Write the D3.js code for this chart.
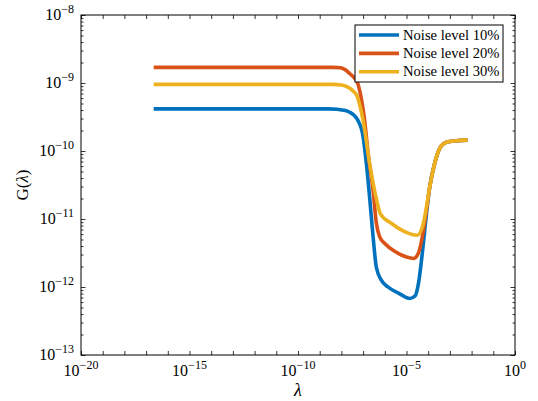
<!DOCTYPE html>
<html>
<head>
<meta charset="utf-8">
<script src="https://cdn.jsdelivr.net/npm/d3@7"></script>
<style>
body { margin: 0; background: #fff; }
text { font-family: "Liberation Serif", "DejaVu Serif", serif; fill: #000; }
</style>
</head>
<body>
<div id="chart-area"></div>
<script>
// log10 of lambda and log10 of G
var seriesNames = ["Noise level 10%", "Noise level 20%", "Noise level 30%"];
var colors = ["#0072BD", "#D95319", "#EDB120"];

var blueLogLam = [-16.65, -8.6, -8.2, -7.9, -7.62, -7.4, -7.24, -7.0, -6.85, -6.70, -6.54, -6.39, -6.16, -5.85, -5.31, -4.85, -4.6, -4.45, -4.24, -4.08, -3.93, -3.70, -3.47, -3.16, -2.70, -2.19];
var blueLogG   = [-9.38, -9.38, -9.385, -9.40, -9.43, -9.48, -9.55, -9.79, -10.18, -10.68, -11.26, -11.71, -11.90, -12.0, -12.10, -12.17, -12.13, -11.95, -11.41, -10.92, -10.53, -10.18, -9.96, -9.87, -9.85, -9.84];

var redLogLam = [-16.65, -8.4, -8.05, -7.85, -7.62, -7.39, -7.24, -7.16, -6.93, -6.77, -6.54, -6.39, -6.24, -6.0, -5.47, -5.0, -4.67, -4.45, -4.24, -4.08, -3.93, -3.70, -3.47, -3.16, -2.70, -2.19];
var redLogG   = [-8.77, -8.77, -8.775, -8.80, -8.86, -8.93, -9.01, -9.11, -9.55, -10.03, -10.58, -11.06, -11.26, -11.36, -11.49, -11.56, -11.58, -11.50, -11.21, -10.87, -10.53, -10.18, -9.96, -9.87, -9.85, -9.84];

var yellowLogLam = [-16.65, -8.4, -8.0, -7.7, -7.45, -7.28, -7.0, -6.70, -6.37, -6.21, -5.67, -5.06, -4.51, -4.25, -4.08, -3.93, -3.70, -3.47, -3.16, -2.70, -2.19];
var yellowLogG   = [-9.02, -9.02, -9.03, -9.06, -9.12, -9.19, -9.55, -10.18, -10.73, -10.92, -11.07, -11.19, -11.24, -11.10, -10.82, -10.53, -10.18, -9.96, -9.87, -9.85, -9.84];

var xTickExp = [-20, -15, -10, -5, 0];
var yTickExp = [-13, -12, -11, -10, -9, -8];

var margin = {top: 15, right: 23, bottom: 46, left: 81};
var width = 538;
var height = 401;
var w = width - margin.left - margin.right;
var h = height - margin.top - margin.bottom;

var svg = d3.select("#chart-area").append("svg")
	.attr("width", width)
	.attr("height", height);

var group = svg.append("g")
	.attr("transform", "translate(" + margin.left + "," + margin.top + ")");

var x = d3.scaleLog().domain([1e-20, 1]).range([0, w]);
var y = d3.scaleLog().domain([1e-13, 1e-8]).range([h, 0]);

var xDecades = d3.range(-20, 1).map((e) => Math.pow(10, e));
var yMinor = [];
for (var e = -13; e < -8; e++) {
	for (var m = 2; m <= 9; m++) yMinor.push(m * Math.pow(10, e));
}
var yMajor = yTickExp.map((e) => Math.pow(10, e));

function tickAxis(axis, vals, size) {
	return axis.tickValues(vals).tickSizeInner(-size).tickSizeOuter(0).tickFormat("");
}

group.append("g").attr("transform", "translate(0," + h + ")").call(tickAxis(d3.axisBottom(x), xDecades, 4));
group.append("g").call(tickAxis(d3.axisTop(x), xDecades, 4));
group.append("g").call(tickAxis(d3.axisLeft(y), yMajor, 4.5));
group.append("g").call(tickAxis(d3.axisLeft(y), yMinor, 2.5));
group.append("g").attr("transform", "translate(" + w + ",0)").call(tickAxis(d3.axisRight(y), yMajor, 4.5));
group.append("g").attr("transform", "translate(" + w + ",0)").call(tickAxis(d3.axisRight(y), yMinor, 2.5));
group.selectAll(".domain").remove();
group.selectAll(".tick line").attr("stroke", "#000").attr("stroke-width", 0.8);

// curves
var line = d3.line()
	.x((d) => x(Math.pow(10, d[0])))
	.y((d) => y(Math.pow(10, d[1])))
	.curve(d3.curveMonotoneX);

var series = [
	d3.zip(blueLogLam, blueLogG),
	d3.zip(redLogLam, redLogG),
	d3.zip(yellowLogLam, yellowLogG)
];
[0, 1, 2].forEach((i) => {
	group.append("path")
		.datum(series[i])
		.attr("fill", "none")
		.attr("stroke", colors[i])
		.attr("stroke-width", 3.6)
		.attr("stroke-linejoin", "round")
		.attr("d", line);
});

// box
group.append("rect")
	.attr("width", w).attr("height", h)
	.attr("fill", "none").attr("stroke", "#000").attr("stroke-width", 1);

// tick labels
xTickExp.forEach((e) => {
	var t = group.append("text")
		.attr("x", x(Math.pow(10, e)))
		.attr("y", h + 21)
		.attr("text-anchor", "middle")
		.attr("font-size", "16px");
	t.append("tspan").text("10");
	t.append("tspan").attr("dy", "-7").attr("font-size", "12px").text(e === 0 ? "0" : "\u2212" + (-e));
});
yTickExp.forEach((e) => {
	var t = group.append("text")
		.attr("x", -7)
		.attr("y", y(Math.pow(10, e)) + 5)
		.attr("text-anchor", "end")
		.attr("font-size", "16px");
	t.append("tspan").text("10");
	t.append("tspan").attr("dy", "-7").attr("font-size", "12px").text("\u2212" + (-e));
});

// axis labels
group.append("text")
	.attr("x", w / 2)
	.attr("y", h + 41)
	.attr("text-anchor", "middle")
	.attr("font-size", "18px")
	.attr("font-style", "italic")
	.text("\u03bb");
var yl = group.append("text")
	.attr("transform", "translate(-53," + (h / 2) + ") rotate(-90)")
	.attr("text-anchor", "middle")
	.attr("font-size", "17px");
yl.append("tspan").text("G(");
yl.append("tspan").attr("font-style", "italic").text("\u03bb");
yl.append("tspan").text(")");

// legend
var legend = group.append("g").attr("transform", "translate(" + (355 - margin.left) + "," + (25 - margin.top) + ")");
legend.append("rect")
	.attr("width", 148).attr("height", 57)
	.attr("fill", "#fff").attr("stroke", "#000").attr("stroke-width", 1);
seriesNames.forEach((name, i) => {
	var ly = 10 + i * 18.4;
	legend.append("line")
		.attr("x1", 4).attr("x2", 44)
		.attr("y1", ly).attr("y2", ly)
		.attr("stroke", colors[i]).attr("stroke-width", 3.6);
	legend.append("text")
		.attr("x", 48)
		.attr("y", ly + 4.5)
		.attr("font-size", "14.6px")
		.text(name);
});
</script>
</body>
</html>
